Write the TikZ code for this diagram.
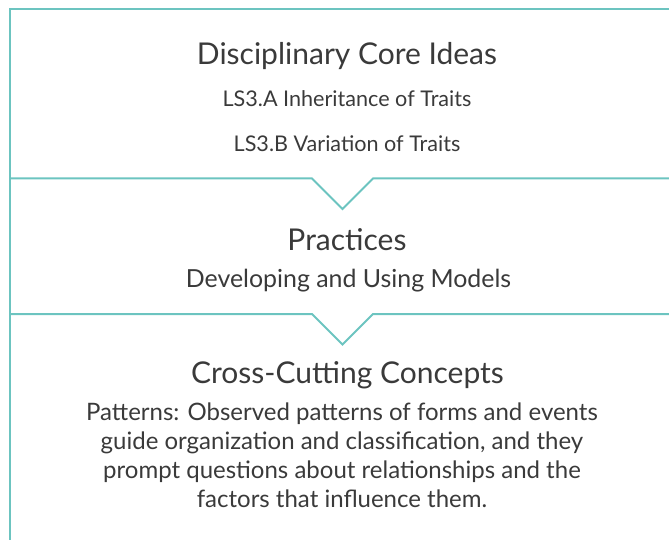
\documentclass[tikz,border=0pt]{standalone}
\usepackage{fontspec}
\setmainfont{Lato}
\definecolor{teal1}{HTML}{6CC4C0}
\definecolor{ink}{HTML}{3A3A3A}
\begin{document}
\begin{tikzpicture}[x=1pt,y=-1pt,
  rule/.style={draw=teal1,line width=2pt,line join=miter},
  title/.style={text=ink,font=\fontsize{30}{34}\selectfont,inner sep=0pt,anchor=center},
  sub/.style={text=ink,font=\fontsize{21.6}{26}\selectfont,inner sep=0pt,anchor=center},
  body/.style={text=ink,font=\fontsize{24.9}{29}\selectfont,inner sep=0pt,anchor=center,align=center},
  para/.style={text=ink,font=\fontsize{24}{29}\selectfont,inner sep=0pt,anchor=center,align=center}]
\useasboundingbox (0,0) rectangle (669,540);
% frame
\coordinate (bl) at (9.5,541);
\coordinate (tl) at (9.5,9.5);
\coordinate (tr) at (670,9.5);
\draw[rule] (bl) -- (tl) -- (tr);
% divider 1
\coordinate (d1l) at (9.5,178.5);
\coordinate (d1a) at (312,178.5);
\coordinate (d1v) at (342.5,209);
\coordinate (d1b) at (373,178.5);
\coordinate (d1r) at (670,178.5);
\draw[rule] (d1l) -- (d1a) -- (d1v) -- (d1b) -- (d1r);
% divider 2
\coordinate (d2l) at (9.5,314);
\coordinate (d2a) at (312,314);
\coordinate (d2v) at (342.5,344.5);
\coordinate (d2b) at (373,314);
\coordinate (d2r) at (670,314);
\draw[rule] (d2l) -- (d2a) -- (d2v) -- (d2b) -- (d2r);
% texts
\node[title] (t1) at (347,56) {Disciplinary Core Ideas};
\node[sub] (a1) at (347,99) {LS3.A Inheritance of Traits};
\node[sub] (a2) at (347,144) {LS3.B Variation of Traits};
\node[title] (t2) at (347,240) {Practices};
\node[body] (b1) at (348.5,281) {Developing and Using Models};
\node[title] (t3) at (347.5,375) {Cross-Cutting Concepts};
\node[para] (c1) at (342,455.5) {Patterns: Observed patterns of forms and events\\guide organization and classification, and they\\prompt questions about relationships and the\\factors that influence them.};
\end{tikzpicture}
\end{document}
